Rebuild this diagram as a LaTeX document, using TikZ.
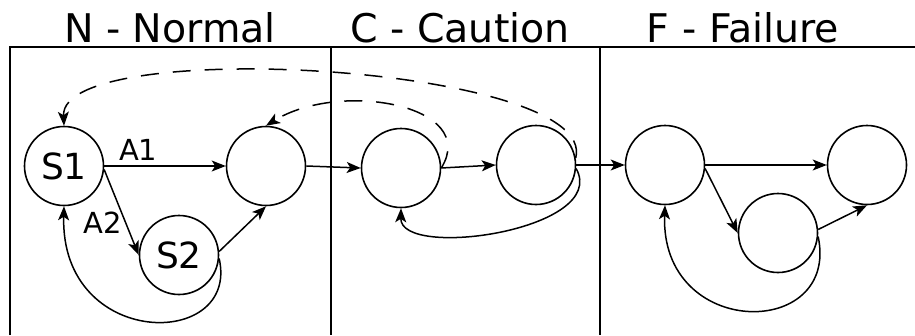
\documentclass[tikz,border=0pt]{standalone}
\usepackage{fontspec}
\setmainfont{DejaVu Sans}
\usetikzlibrary{arrows.meta}
\begin{document}
\begin{tikzpicture}[x=1pt,y=-1pt,
  state/.style={circle,draw,line width=1.6pt,minimum size=79pt,inner sep=0pt,font=\fontsize{36}{36}\selectfont},
  edge/.style={line width=1.5pt,-{Stealth[length=14pt,width=11pt,inset=3.5pt]}},
  dashedge/.style={edge,dash pattern=on 18pt off 14pt},
  title/.style={anchor=base,inner sep=0pt,font=\fontsize{39.5}{40}\selectfont},
  lbl/.style={inner sep=0pt,font=\fontsize{29}{29}\selectfont},
  frame/.style={line width=2pt}]
\useasboundingbox (0,0) rectangle (915,335);
% frame
\draw[frame] (10,335) -- (10,47) -- (915,47);
\draw[frame] (331,47) -- (331,335);
\draw[frame] (600,47) -- (600,335);
% titles
\node[title] (tN) at (170,42) {N - Normal};
\node[title] (tC) at (460,42) {C - Caution};
\node[title] (tF) at (743,42) {F - Failure};
% states
\node[state] (S1) at (64,166) {S1};
\node[state] (N2) at (266,166) {};
\node[state] (S2) at (179,255) {S2};
\node[state] (C1) at (401,168) {};
\node[state] (C2) at (536,165) {};
\node[state] (F1) at (665,165) {};
\node[state] (F2) at (778,233) {};
\node[state] (F3) at (867,165) {};
% N edges
\draw[edge] (S1.east) -- node[lbl,above=5pt,pos=0.28] (A1) {A1} (N2.west);
\draw[edge] (S1.-5) -- node[lbl,left=3pt,pos=0.62] (A2) {A2} (S2.west);
\draw[edge] (S2.5) -- (N2.south);
\draw[edge] (S2.-5) .. controls (240,350) and (60,350) .. (S1.south);
\draw[edge] (N2.east) -- (C1.west);
% C edges
\draw[edge] (C1.east) -- (C2.west);
\draw[edge] (C2.east) -- (F1.west);
\draw[edge] (C2.-5) .. controls (610,230) and (400,260) .. (C1.south);
% F edges
\draw[edge] (F1.east) -- (F3.west);
\draw[edge] (F1.-5) -- (F2.west);
\draw[edge] (F2.5) -- (F3.south);
\draw[edge] (F2.-5) .. controls (840,340) and (660,340) .. (F1.south);
% dashed
\draw[dashedge] (C1.east) .. controls (480,105) and (340,80) .. (N2.north);
\draw[dashedge] (C2.10) .. controls (600,65) and (60,35) .. (S1.north);
\end{tikzpicture}
\end{document}
